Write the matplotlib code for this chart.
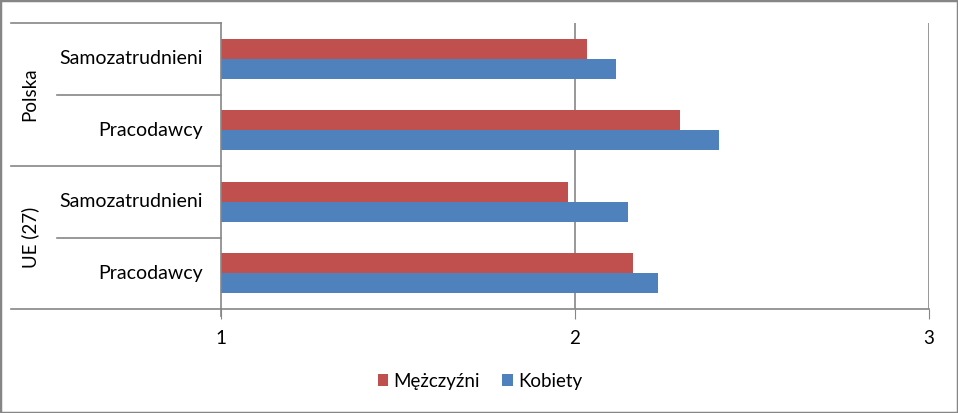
import matplotlib
matplotlib.use("Agg")
import matplotlib.pyplot as plt
from matplotlib.patches import Rectangle

plt.rcParams['font.family'] = ['Lato', 'DejaVu Sans']

groups = ["Polska", "UE (27)"]
subcats = ["Samozatrudnieni", "Pracodawcy"]
men = [2.034, 2.297, 1.980, 2.164]
women = [2.116, 2.407, 2.150, 2.234]
series_names = ["Mężczyźni", "Kobiety"]
red = "#c0504d"
blue = "#4f81bd"
gray = "#868686"

fig = plt.figure(figsize=(9.58, 4.13), dpi=100)
ax = fig.add_axes([221/958, 1-309/413, 708/958, 286/413])

n = len(men)
pos = list(range(n))
h = 0.28
ax.barh([p - h/2 for p in pos], [m - 1 for m in men], left=1, height=h, color=red, label=series_names[0])
ax.barh([p + h/2 for p in pos], [w - 1 for w in women], left=1, height=h, color=blue, label=series_names[1])

ax.set_xlim(1, 3)
ax.set_ylim(n - 0.5, -0.5)
ax.set_xticks([1, 2, 3])
ax.set_xticklabels(["1", "2", "3"], fontsize=13.5)
ax.tick_params(axis='x', length=7, color=gray, pad=8)
ax.set_yticks([])
for x in [2, 3]:
    ax.axvline(x, color=gray, lw=1.2, zorder=0)
for s in ['top', 'right']:
    ax.spines[s].set_visible(False)
ax.spines['left'].set_color(gray)
ax.spines['bottom'].set_color(gray)
ax.spines['left'].set_linewidth(1.2)
ax.spines['bottom'].set_linewidth(1.2)

# category axis: labels and separators
tr = ax.get_yaxis_transform()
full_x = (11 - 221) / 708
sub_x = (57 - 221) / 708
for i, b in enumerate([p - 0.5 for p in pos] + [n - 0.5]):
    x0 = full_x if i % 2 == 0 else sub_x
    ax.plot([x0, 0], [b, b], transform=tr, color=gray, lw=1.2, clip_on=False)
    if i == n:
        ax.plot([0, 0], [b, b + 0.1], transform=tr, color=gray, lw=1.2, clip_on=False)
lab_x = (203 - 221) / 708
for i in pos:
    ax.text(lab_x, i, subcats[i % 2], transform=tr, ha='right', va='center', fontsize=14)
grp_x = (30 - 221) / 708
for g, name in enumerate(groups):
    ax.text(grp_x, 2*g + 0.5, name, transform=tr, ha='center', va='center', rotation=90, fontsize=13.5)

leg = fig.legend(loc='center', bbox_to_anchor=(480/958, 1-381/413), ncol=2, frameon=False,
                 fontsize=13.5, handlelength=0.55, handleheight=0.55, handletextpad=0.3, columnspacing=1.2)

fig.patches.append(Rectangle((0, 0), 1, 1, transform=fig.transFigure, fill=False,
                             edgecolor=gray, lw=2.5))

fig.savefig("out.png", dpi=100)
